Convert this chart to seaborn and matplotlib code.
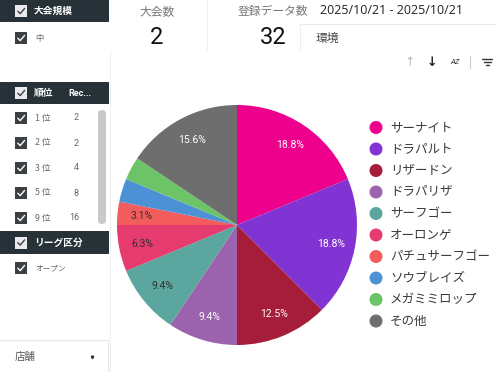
import math
import matplotlib
matplotlib.use("Agg")
import matplotlib.pyplot as plt
import seaborn as sns
from matplotlib.patches import Rectangle, FancyBboxPatch, Circle
from matplotlib.lines import Line2D

# ---------------- data ----------------
categories = ["サーナイト", "ドラパルト", "リザードン", "ドラパリザ", "サーフゴー",
              "オーロンゲ", "パチュサーフゴー", "ソウブレイズ", "メガミミロップ", "その他"]
counts = [6, 6, 4, 3, 3, 2, 1, 1, 1, 5]
colors = ["#EC008C", "#8133D3", "#A51D3B", "#9B63AE", "#5BA69E",
          "#E63B6F", "#F25C5C", "#4C91D6", "#6DC367", "#6E6E6E"]
label_colors = ["white", "white", "white", "white", "#303030",
                "#303030", "#303030", None, None, "white"]  # None -> label hidden

rank_labels = ["1 位", "2 位", "3 位", "5 位", "9 位"]
rank_counts = [2, 2, 4, 8, 16]
kpi_titles = ["大会数", "登録データ数"]
kpi_values = ["2", "32"]
date_range = "2025/10/21 - 2025/10/21"

# ---------------- style ----------------
sns.set_theme(style="white")
plt.rcParams["font.family"] = ["Noto Sans CJK JP", "DejaVu Sans"]

W, H = 496, 372
fig = plt.figure(figsize=(W / 100, H / 100), dpi=100)
fig.patch.set_facecolor("white")

bg = fig.add_axes([0, 0, 1, 1])
bg.set_xlim(0, W)
bg.set_ylim(H, 0)
bg.axis("off")

DARK = "#263238"


def checkbox(x, y, dark=True):
    fc = "#3C4043" if dark else "#E8EAED"
    cc = "white" if dark else "#3C4043"
    bg.add_patch(Rectangle((x, y - 6), 12, 12, facecolor=fc, edgecolor="none", zorder=3))
    bg.add_line(Line2D([x + 2.8, x + 5.2, x + 9.6], [y + 0.2, y + 2.6, y - 2.6],
                       color=cc, lw=1.0, zorder=4, solid_capstyle="round"))


def header(y0, y1, text, extra=None):
    bg.add_patch(Rectangle((0, y0), 109, y1 - y0, facecolor=DARK, edgecolor="none", zorder=2))
    yc = (y0 + y1) / 2
    checkbox(15, yc, dark=False)
    bg.text(34, yc, text, color="white", fontsize=7, fontweight="bold",
            va="center", ha="left", zorder=4)
    if extra:
        bg.text(68, yc, extra, color="white", fontsize=6.5, fontweight="bold",
                va="center", ha="left", zorder=4, family=["Roboto", "DejaVu Sans"])


# sidebar
header(0, 22, "大会規模")
checkbox(15, 38)
bg.text(35, 38, "中", fontsize=6, color="#666666", va="center")

header(82, 104, "順位", "Rec...")
bg.add_patch(FancyBboxPatch((98, 110), 8, 114, boxstyle="round,pad=0,rounding_size=4",
                            facecolor="#C9C9C9", edgecolor="none", zorder=2))
for i, (lab, n) in enumerate(zip(rank_labels, rank_counts)):
    y = 118 + 25 * i
    checkbox(15, y)
    bg.text(35, y, lab, fontsize=6.3, color="#666666", va="center")
    bg.text(79, y, str(n), fontsize=6.5, color="#666666", va="center", ha="right",
            family=["Roboto", "DejaVu Sans"])

header(231, 254, "リーグ区分")
checkbox(15, 268)
bg.text(35, 268, "オープン", fontsize=5.5, color="#666666", va="center")

# store dropdown
bg.add_line(Line2D([0, 108], [340, 340], color="#E6E6E6", lw=0.8))
bg.add_line(Line2D([108, 108], [340, 372], color="#E6E6E6", lw=0.8))
bg.text(15, 357, "店舗", fontsize=7.5, color="#555555", va="center")
bg.plot([92], [357], marker="v", ms=1.8, color="#333333")

# divider next to sidebar
bg.add_line(Line2D([110, 110], [50, 372], color="#F0F0F0", lw=0.8))

# KPIs
for xc, t, v in zip([157, 273], kpi_titles, kpi_values):
    bg.text(xc, 12, t, fontsize=8.5, color="#777777", ha="center", va="center")
    bg.text(xc, 37, v, fontsize=17, color="#111111", ha="center", va="center",
            family=["Roboto", "DejaVu Sans"])
bg.add_line(Line2D([207, 207], [0, 50], color="#EEEEEE", lw=0.8))

# date range & filter
bg.text(320, 11, date_range, fontsize=9, color="#222222", va="center",
        family=["Open Sans", "DejaVu Sans"])
bg.add_line(Line2D([300, 496], [24, 24], color="#E8E8E8", lw=0.8))
bg.add_line(Line2D([300, 300], [24, 50], color="#EEEEEE", lw=0.8))
bg.text(316, 38, "環境", fontsize=8.5, color="#444444", va="center")

# toolbar icons
bg.text(410, 62, "↑", fontsize=9, color="#BBBBBB", ha="center", va="center",
        family=["DejaVu Sans"])
bg.text(432, 62, "↓", fontsize=9, color="#222222", ha="center", va="center",
        family=["DejaVu Sans"], fontweight="bold")
bg.text(455, 62, "AZ", fontsize=5.5, color="#333333", ha="center", va="center",
        family=["Roboto", "DejaVu Sans"], fontstyle="italic")
bg.add_line(Line2D([470, 470], [56, 68], color="#CCCCCC", lw=0.8))
for dy, half in [(-3, 5), (0, 3.5), (3, 1.5)]:
    bg.add_line(Line2D([487 - half, 487 + half], [62 + dy, 62 + dy], color="#333333", lw=1.0))

# ---------------- pie ----------------
cx, cy, r = 237, 225, 120
pax = fig.add_axes([(cx - r) / W, (H - cy - r) / H, 2 * r / W, 2 * r / H])


def fmt(p):
    return f"{math.floor(p * 10 + 0.5) / 10:.1f}%"


wedges, texts, autotexts = pax.pie(
    counts, colors=colors, startangle=90, counterclock=False,
    autopct=fmt, pctdistance=0.8,
    wedgeprops=dict(linewidth=0),
    textprops=dict(family=["Roboto", "DejaVu Sans"], fontsize=7.5))
for t, c in zip(autotexts, label_colors):
    if c is None:
        t.set_visible(False)
    else:
        t.set_color(c)
pax.set_xlim(-1, 1)
pax.set_ylim(-1, 1)
pax.set_aspect("equal")
pax.axis("off")

# ---------------- legend ----------------
for i, (name, col) in enumerate(zip(categories, colors)):
    y = 127.5 + 21.5 * i
    bg.add_patch(Circle((376, y), 6.5, facecolor=col, edgecolor="none"))
    bg.text(390, y, name, fontsize=9, color="#3A3A3A", va="center", ha="left")

fig.savefig("out.png", dpi=100, facecolor="white")
